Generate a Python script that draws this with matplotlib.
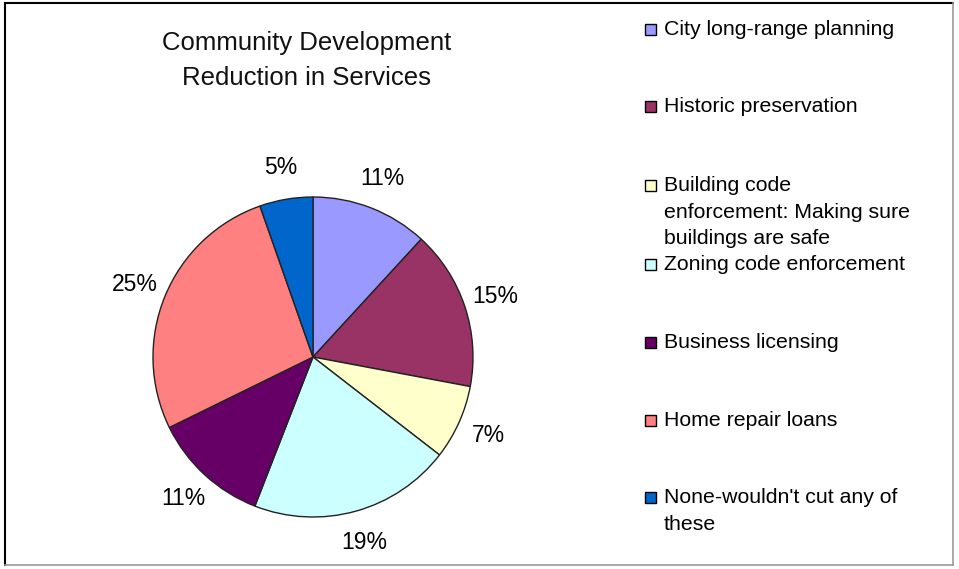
import matplotlib
matplotlib.use('Agg')
import matplotlib.pyplot as plt
from matplotlib.patches import Rectangle
from matplotlib.lines import Line2D

plt.rcParams['font.family'] = ['Liberation Sans', 'DejaVu Sans']

categories = ['City long-range planning', 'Historic preservation',
              'Building code\nenforcement: Making sure\nbuildings are safe',
              'Zoning code enforcement', 'Business licensing',
              'Home repair loans', "None-wouldn't cut any of\nthese"]
values = [11, 15, 7, 19, 11, 25, 5]
pct_labels = ['11%', '15%', '7%', '19%', '11%', '25%', '5%']
colors = ['#9999FF', '#993366', '#FFFFCC', '#CCFFFF', '#660066', '#FF8080', '#0066CC']

W, H = 959, 569
fig = plt.figure(figsize=(W / 100, H / 100), dpi=100)
fig.patch.set_facecolor('white')

# pie axes, centre (313, 357) px, radius 160 px
cx, cy, r = 313, 357, 160
half = 220
ax = fig.add_axes([(cx - half) / W, (H - cy - half) / H, 2 * half / W, 2 * half / H])
wedges, texts = ax.pie(values, labels=pct_labels, colors=colors, startangle=90,
                       counterclock=False, radius=1, labeldistance=1.2,
                       wedgeprops=dict(edgecolor='#222222', linewidth=1.0),
                       textprops=dict(fontsize=16.5, color='black'))
for t in texts:
    t.set_ha('center')
    t.set_va('center')
ax.set_xlim(-half / r, half / r)
ax.set_ylim(-half / r, half / r)
ax.set_aspect('equal')
ax.axis('off')

# title
fig.text(307 / W, 1 - 43 / H, 'Community Development', ha='center', va='center',
         fontsize=18.5, color='#111111')
fig.text(307 / W, 1 - 78 / H, 'Reduction in Services', ha='center', va='center',
         fontsize=18.5, color='#111111')

# legend drawn by hand, Excel style
ys = [30, 107, 186, 265, 343, 421, 498]
for lab, col, y in zip(categories, colors, ys):
    fig.add_artist(Rectangle((645 / W, 1 - (y + 5) / H), 11 / W, 11 / H,
                             facecolor=col, edgecolor='black', linewidth=1,
                             transform=fig.transFigure))
    fig.text(664 / W, 1 - (y - 10) / H, lab, ha='left', va='top', fontsize=15.3,
             color='black', linespacing=1.5)

# outer frame
fig.add_artist(Line2D([5 / W, 953 / W], [1 - 3 / H, 1 - 3 / H], color='black', lw=1.5))
fig.add_artist(Line2D([5 / W, 5 / W], [1 - 3 / H, 1 - 565 / H], color='black', lw=1.5))
fig.add_artist(Line2D([953 / W, 953 / W], [1 - 3 / H, 1 - 565 / H], color='#999999', lw=1.2))
fig.add_artist(Line2D([5 / W, 953 / W], [1 - 565 / H, 1 - 565 / H], color='#999999', lw=1.2))

fig.savefig('out.png', dpi=100)
